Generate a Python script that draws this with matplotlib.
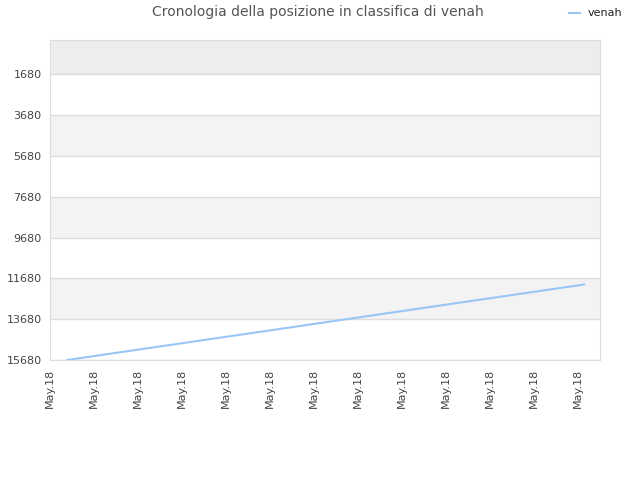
import matplotlib
matplotlib.use("Agg")
import matplotlib.pyplot as plt

# Series data (x in tick units, y = position in ranking)
x_values = [0.39, 12.14]
positions = [15680, 11980]
y_ticks = [1680, 3680, 5680, 7680, 9680, 11680, 13680, 15680]
x_labels = ["May.18"] * 13
series_name = "venah"

fig = plt.figure(figsize=(6.4, 4.8), dpi=100)
ax = fig.add_axes([50 / 640, 120 / 480, 550 / 640, 320 / 480])

# Background bands between grid lines
ax.axhspan(0, 1680, color="#ededed", zorder=0, lw=0)
for i in range(1, len(y_ticks) - 1, 2):
    ax.axhspan(y_ticks[i], y_ticks[i + 1], color="#f3f3f3", zorder=0, lw=0)
for t in y_ticks:
    ax.axhline(t, color="#dddddd", lw=1, zorder=1)

ax.plot(x_values, positions, color="#99c6f5", lw=1.5, zorder=3)

ax.set_xlim(0, 12.5)
ax.set_ylim(15680, 0)
ax.set_yticks(y_ticks)
ax.set_yticklabels([str(t) for t in y_ticks], fontsize=8, color="#444444")
ax.set_xticks(range(len(x_labels)))
ax.set_xticklabels(x_labels, rotation=90, fontsize=8, color="#444444")
ax.tick_params(length=0, pad=6)
for s in ax.spines.values():
    s.set_color("#dddddd")

fig.text(318 / 640, 1 - 12 / 480, "Cronologia della posizione in classifica di venah",
         ha="center", va="center", fontsize=10, color="#555555")
fig.lines.append(plt.Line2D([569 / 640, 580 / 640], [1 - 13 / 480, 1 - 13 / 480],
                            color="#99c6f5", lw=1.5, transform=fig.transFigure))
fig.text(588 / 640, 1 - 13 / 480, series_name, ha="left", va="center", fontsize=8, color="#222222")

fig.savefig("out.png", dpi=100)
